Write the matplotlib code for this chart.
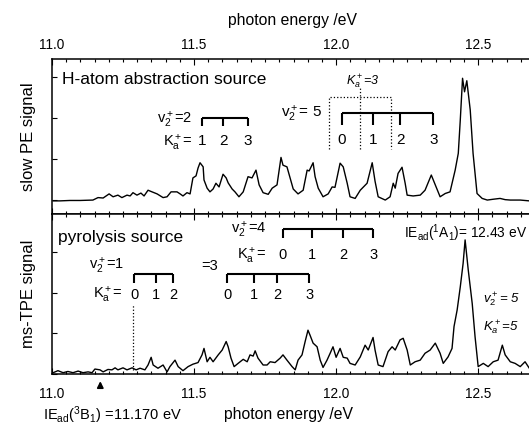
import matplotlib
matplotlib.use('Agg')
import matplotlib.pyplot as plt
from matplotlib.ticker import MultipleLocator, FormatStrFormatter

plt.rcParams['font.family'] = ['Liberation Sans', 'DejaVu Sans']
plt.rcParams['mathtext.fontset'] = 'custom'
plt.rcParams['mathtext.rm'] = 'Liberation Sans'
plt.rcParams['mathtext.it'] = 'Liberation Sans:italic'
plt.rcParams['mathtext.bf'] = 'Liberation Sans:bold'
plt.rcParams['mathtext.sf'] = 'Liberation Sans'

# ---------------- data: slow PE spectrum (H-atom abstraction source) ----------------
slow_E = [11.004, 11.028, 11.063, 11.099, 11.144, 11.162, 11.180, 11.201, 11.215, 11.232,
          11.246, 11.264, 11.275, 11.285, 11.299, 11.313, 11.324, 11.338, 11.352, 11.370,
          11.391, 11.405, 11.419, 11.440, 11.451, 11.461, 11.475, 11.486, 11.496, 11.507,
          11.514, 11.521, 11.532, 11.535, 11.546, 11.556, 11.567, 11.577, 11.588, 11.602,
          11.613, 11.620, 11.634, 11.644, 11.658, 11.673, 11.690, 11.704, 11.718, 11.729,
          11.743, 11.761, 11.775, 11.792, 11.806, 11.813, 11.827, 11.838, 11.849, 11.866,
          11.884, 11.898, 11.905, 11.919, 11.926, 11.937, 11.954, 11.972, 11.986, 11.996,
          12.014, 12.025, 12.039, 12.049, 12.067, 12.085, 12.109, 12.127, 12.137, 12.148,
          12.173, 12.190, 12.201, 12.208, 12.218, 12.232, 12.243, 12.250, 12.271, 12.296,
          12.313, 12.335, 12.349, 12.366, 12.384, 12.401, 12.419, 12.430, 12.437, 12.445,
          12.452, 12.460, 12.472, 12.482, 12.496, 12.514, 12.532, 12.553, 12.577, 12.595,
          12.613, 12.648, 12.680]
slow_I = [-0.02, -0.02, -0.01, -0.01, 0.00, 0.06, 0.05, 0.15, 0.08, 0.12,
          0.06, 0.12, 0.10, 0.18, 0.12, 0.17, 0.10, 0.24, 0.20, 0.15,
          0.06, 0.08, 0.20, 0.20, 0.15, 0.10, 0.18, 0.15, 0.54, 0.59,
          0.78, 0.91, 0.81, 0.49, 0.29, 0.20, 0.27, 0.41, 0.32, 0.63,
          0.54, 0.42, 0.27, 0.20, 0.08, 0.20, 0.57, 0.54, 0.73, 0.37,
          0.18, 0.14, 0.29, 0.37, 1.04, 0.85, 0.81, 0.54, 0.27, 0.15,
          0.24, 0.73, 0.71, 0.91, 0.57, 0.29, 0.08, 0.15, 0.32, 0.31,
          0.90, 0.81, 0.41, 0.08, 0.04, 0.24, 0.41, 0.91, 0.46, 0.08,
          0.00, 0.08, 0.41, 0.29, 0.65, 0.80, 0.41, 0.12, 0.10, 0.12,
          0.24, 0.61, 0.37, 0.08, 0.16, 0.20, 0.73, 1.14, 1.95, 2.97,
          2.64, 2.91, 2.20, 1.14, 0.16, 0.04, 0.00, 0.02, 0.04, 0.01,
          0.00, 0.00, -0.02]

# ---------------- data: ms-TPE spectrum (pyrolysis source) ----------------
tpe_E = [11.004, 11.021, 11.039, 11.056, 11.074, 11.092, 11.109, 11.127, 11.141, 11.151,
         11.169, 11.180, 11.197, 11.211, 11.222, 11.232, 11.250, 11.264, 11.282, 11.296,
         11.310, 11.327, 11.338, 11.349, 11.356, 11.373, 11.391, 11.405, 11.415, 11.433,
         11.444, 11.461, 11.479, 11.496, 11.514, 11.528, 11.535, 11.546, 11.556, 11.567,
         11.585, 11.599, 11.613, 11.620, 11.630, 11.641, 11.655, 11.673, 11.687, 11.697,
         11.708, 11.715, 11.725, 11.743, 11.757, 11.768, 11.785, 11.803, 11.813, 11.827,
         11.845, 11.856, 11.866, 11.880, 11.891, 11.901, 11.908, 11.919, 11.933, 11.944,
         11.954, 11.968, 11.979, 11.989, 12.000, 12.014, 12.025, 12.039, 12.049, 12.067,
         12.085, 12.102, 12.113, 12.130, 12.137, 12.148, 12.165, 12.183, 12.197, 12.208,
         12.225, 12.236, 12.250, 12.261, 12.278, 12.296, 12.313, 12.331, 12.349, 12.366,
         12.377, 12.394, 12.408, 12.415, 12.426, 12.437, 12.447, 12.454, 12.465, 12.479,
         12.489, 12.500, 12.518, 12.535, 12.553, 12.570, 12.585, 12.595, 12.613, 12.630,
         12.648, 12.665, 12.680]
tpe_I = [0.02, 0.07, 0.02, 0.05, 0.02, 0.06, 0.02, 0.04, 0.02, 0.11,
         0.09, 0.04, 0.10, 0.09, 0.14, 0.09, 0.14, 0.09, 0.14, 0.09,
         0.13, 0.09, 0.21, 0.40, 0.21, 0.13, 0.21, 0.04, 0.17, 0.33,
         0.17, 0.07, 0.17, 0.23, 0.27, 0.46, 0.62, 0.29, 0.40, 0.29,
         0.46, 0.58, 0.79, 0.66, 0.38, 0.17, 0.25, 0.35, 0.29, 0.46,
         0.43, 0.56, 0.38, 0.21, 0.21, 0.29, 0.27, 0.38, 0.46, 0.33,
         0.17, 0.09, 0.33, 0.46, 0.79, 1.07, 0.95, 0.75, 0.66, 0.33,
         0.15, 0.33, 0.50, 0.66, 0.40, 0.62, 0.40, 0.38, 0.25, 0.21,
         0.41, 0.70, 0.58, 0.89, 0.58, 0.21, 0.17, 0.54, 0.66, 0.58,
         0.83, 0.87, 0.58, 0.21, 0.29, 0.33, 0.50, 0.58, 0.75, 0.50,
         0.25, 0.41, 0.62, 1.16, 1.57, 2.14, 2.72, 3.30, 2.56, 1.73,
         0.91, 0.17, 0.25, 0.17, 0.29, 0.33, 0.70, 0.46, 0.29, 0.25,
         0.17, 0.29, 0.13]

# ---------------- assignment combs ----------------
comb_up_v2 = [11.528, 11.602, 11.690]            # v2+=2, Ka+=1,2,3
comb_up_v2_labels = ['1', '2', '3']
comb_up_v5 = [12.021, 12.130, 12.225, 12.342]    # v2+=5, Ka+=0..3
comb_up_v5_labels = ['0', '1', '2', '3']
ka3_box = [11.975, 12.085, 12.194]               # dotted Ka+=3 box

comb_lo_v1 = [11.289, 11.366, 11.426]            # v2+=1, Ka+=0,1,2
comb_lo_v1_labels = ['0', '1', '2']
comb_lo_v3 = [11.616, 11.711, 11.792, 11.905]    # v2+=3, Ka+=0..3
comb_lo_v3_labels = ['0', '1', '2', '3']
comb_lo_v4 = [11.813, 11.915, 12.025, 12.130]    # v2+=4, Ka+=0..3
comb_lo_v4_labels = ['0', '1', '2', '3']
ie_triplet = 11.170
onset_line = 11.285

x_ticks = [11.0, 11.5, 12.0, 12.5]

# ---------------- figure ----------------
W, H = 529, 425
fig = plt.figure(figsize=(W / 100, H / 100), dpi=100)
L = 52 / W
R = 535 / W
ytop1, ymid, ybot = 1 - 59 / H, 1 - 214 / H, 1 - 373.5 / H
ax1 = fig.add_axes([L, ymid, R - L, ytop1 - ymid])
ax2 = fig.add_axes([L, ybot, R - L, ymid - ybot])

for ax in (ax1, ax2):
    ax.set_xlim(11.0, 12.70)
    ax.set_xticks(x_ticks)
    ax.xaxis.set_major_formatter(FormatStrFormatter('%.1f'))
    ax.xaxis.set_minor_locator(MultipleLocator(0.05))
    ax.yaxis.set_major_locator(MultipleLocator(1))
    ax.tick_params(axis='x', which='both', direction='in', top=True, bottom=True,
                   width=0.8, labelsize=9.8, colors='black')
    ax.tick_params(axis='x', which='major', length=4.5)
    ax.tick_params(axis='x', which='minor', length=2.5)
    ax.tick_params(axis='y', which='both', direction='in', left=True, right=False,
                   labelleft=False, length=3.5, width=0.8)
    ax.yaxis.set_minor_locator(plt.NullLocator())
    for s in ax.spines.values():
        s.set_linewidth(1.1)
    ax.spines['right'].set_visible(False)

ax1.tick_params(axis='x', labeltop=True, labelbottom=False, pad=5)
ax2.tick_params(axis='x', labeltop=False, labelbottom=True, pad=10)
ax1.set_ylim(-0.34, 3.44)
ax2.set_ylim(0, 3.94)

ax1.plot(slow_E, slow_I, color='black', lw=1.0)
ax2.plot(tpe_E, tpe_I, color='black', lw=1.0)

ax1.set_ylabel('slow PE signal', fontsize=12)
ax2.set_ylabel('ms-TPE signal', fontsize=12)
ax1.yaxis.set_label_coords(-0.033, 0.5)
ax2.yaxis.set_label_coords(-0.033, 0.5)


def comb(ax, xs, y, ydrop, labels, ylab, fs):
    ax.plot([xs[0], xs[-1]], [y, y], color='black', lw=1.5, solid_capstyle='butt')
    ax.vlines(xs, ydrop, y, color='black', lw=1.5)
    for x, t in zip(xs, labels):
        ax.text(x, ylab, t, ha='center', va='center', fontsize=fs)


# upper panel annotations
ax1.text(11.035, 2.95, 'H-atom abstraction source', ha='left', va='center', fontsize=12.5)
ax1.text(11.493, 1.95, r'v$_2^+$=2', ha='right', va='center', fontsize=10.5)
comb(ax1, comb_up_v2, 2.0, 1.80, comb_up_v2_labels, 1.44, 11)
ax1.text(11.493, 1.40, r'K$_\mathrm{a}^+$=', ha='right', va='center', fontsize=10.5)
ax1.text(11.951, 2.10, r'v$_2^+$= 5', ha='right', va='center', fontsize=11)
comb(ax1, comb_up_v5, 2.12, 1.83, comb_up_v5_labels, 1.46, 11)
ax1.plot([ka3_box[0], ka3_box[0], ka3_box[2], ka3_box[2]], [1.24, 2.51, 2.51, 1.24],
         color='black', lw=0.9, ls=':')
ax1.plot([ka3_box[1], ka3_box[1]], [1.24, 2.73], color='black', lw=0.9, ls=':')
ax1.text(ka3_box[1] + 0.01, 2.88, r'$K_a^+$=3', ha='center', va='center', fontsize=9,
         style='italic')

# lower panel annotations
ax2.text(11.021, 3.37, 'pyrolysis source', ha='left', va='center', fontsize=12.5)
ax2.text(11.754, 3.55, r'v$_2^+$=4', ha='right', va='center', fontsize=10.5)
comb(ax2, comb_lo_v4, 3.57, 3.35, comb_lo_v4_labels, 2.93, 10.5)
ax2.text(11.754, 2.90, r'K$_\mathrm{a}^+$=', ha='right', va='center', fontsize=10.5)
ax2.text(11.585, 2.65, '=3', ha='right', va='center', fontsize=10.5)
comb(ax2, comb_lo_v3, 2.46, 2.23, comb_lo_v3_labels, 1.94, 10.5)
ax2.text(11.254, 2.65, r'v$_2^+$=1', ha='right', va='center', fontsize=10.5)
comb(ax2, comb_lo_v1, 2.46, 2.23, comb_lo_v1_labels, 1.94, 10.5)
ax2.text(11.249, 1.94, r'K$_\mathrm{a}^+$=', ha='right', va='center', fontsize=10.5)
ax2.plot([onset_line, onset_line], [0.09, 1.69], color='black', lw=0.9, ls=':')
ax2.text(12.238, 3.47, r'IE$_\mathrm{ad}$($^1$A$_1$)= 12.43 eV', ha='left', va='center',
         fontsize=9.9)
ax2.text(12.518, 1.83, r'$v_2^+$= 5', ha='left', va='center', fontsize=9.5, style='italic')
ax2.text(12.518, 1.12, r'$K_a^+$=5', ha='left', va='center', fontsize=9.5, style='italic')
ax2.annotate('', xy=(ie_triplet, -0.12), xytext=(ie_triplet, -0.38),
             arrowprops=dict(arrowstyle='-|>', color='black', lw=1.3, mutation_scale=9),
             annotation_clip=False)

fig.text(293 / W, 1 - 20 / H, 'photon energy /eV', ha='center', va='center', fontsize=11.3)
fig.text(288 / W, 1 - 414 / H, 'photon energy /eV', ha='center', va='center', fontsize=11.3)
fig.text(43 / W, 1 - 415 / H, r'IE$_\mathrm{ad}$($^3$B$_1$) =11.170 eV', ha='left',
         va='center', fontsize=10.5)

fig.savefig('out.png', dpi=100)
